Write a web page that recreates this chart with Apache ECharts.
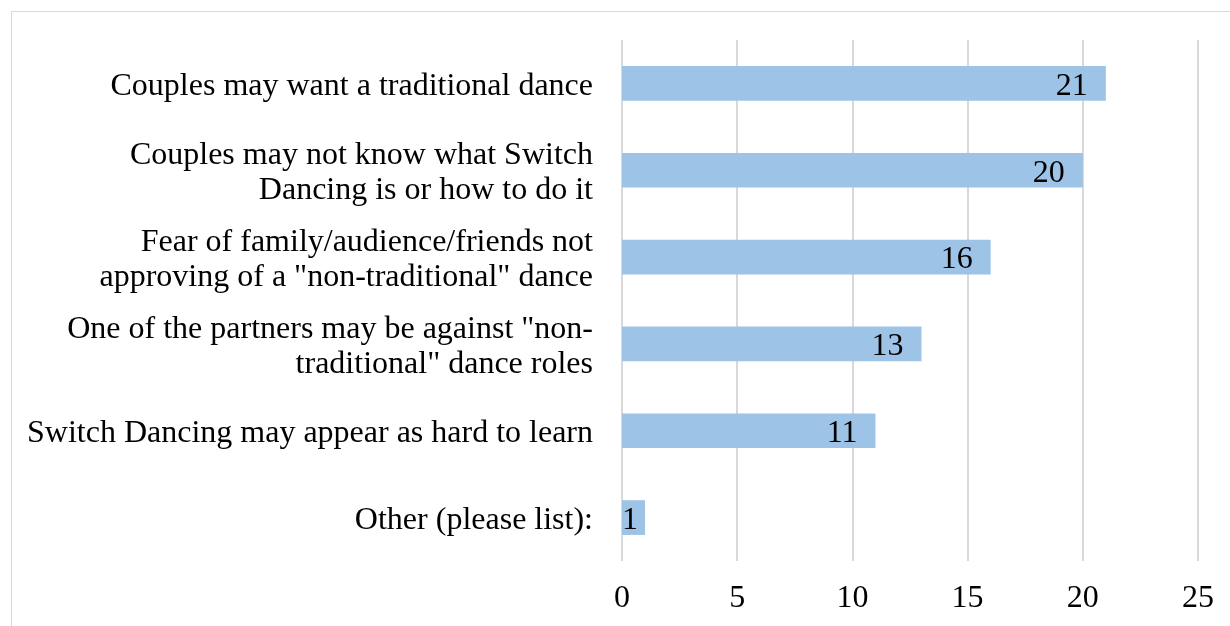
<!DOCTYPE html>
<html>
<head>
<meta charset="utf-8">
<script src="https://cdn.jsdelivr.net/npm/echarts@6/dist/echarts.min.js"></script>
<style>
  html, body { margin: 0; padding: 0; background: #fff; }
  #chart { width: 1230px; height: 626px; }
</style>
</head>
<body>
<div id="chart"></div>
<script>
// Reasons couples might not choose a switch dance (top to bottom)
const categories = [
  'Couples may want a traditional dance',
  'Couples may not know what Switch\nDancing is or how to do it',
  'Fear of family/audience/friends not\napproving of a "non-traditional" dance',
  'One of the partners may be against "non-\ntraditional" dance roles',
  'Switch Dancing may appear as hard to learn',
  'Other (please list):'
];
const counts = [21, 20, 16, 13, 11, 1];
const xTicks = [0, 5, 10, 15, 20, 25];

const FONT = "'Liberation Serif', 'Times New Roman', serif";

const chart = echarts.init(document.getElementById('chart'), null, { renderer: 'canvas' });

chart.setOption({
  animation: false,
  backgroundColor: '#ffffff',
  graphic: [{
    type: 'rect',
    shape: { x: 11.5, y: 11.5, width: 1300, height: 700 },
    style: { fill: 'none', stroke: '#d9d9d9', lineWidth: 1 },
    silent: true
  }],
  grid: { left: 622, right: 32, top: 40, bottom: 65, containLabel: false },
  xAxis: {
    type: 'value',
    min: xTicks[0],
    max: xTicks[xTicks.length - 1],
    interval: xTicks[1] - xTicks[0],
    axisLine: { show: false },
    axisTick: { show: false },
    splitLine: { show: true, lineStyle: { color: '#d9d9d9', width: 2 } },
    axisLabel: { color: '#000', fontFamily: FONT, fontSize: 32, margin: 22 }
  },
  yAxis: {
    type: 'category',
    inverse: true,
    data: categories,
    axisLine: { show: false },
    axisTick: { show: false },
    axisLabel: {
      color: '#000', fontFamily: FONT, fontSize: 32, lineHeight: 35,
      margin: 29, align: 'right', verticalAlign: 'middle',
      // nudge the wrapped text a few pixels lower
      formatter: v => v.split('\n').map(l => '{t|' + l + '}').join('\n'),
      rich: {
        t: { fontFamily: FONT, fontSize: 32, lineHeight: 35, color: '#000', padding: [6, 0, 0, 0], height: 35 }
      }
    }
  },
  series: [{
    type: 'bar',
    barWidth: '40%',
    itemStyle: { color: '#9dc3e6' },
    data: counts.map(v => v < 3
      ? { value: v, label: { distance: 7 } }
      : v),
    label: {
      show: true,
      position: 'insideRight',
      distance: 18,
      offset: [0, 3],
      color: '#000',
      fontFamily: FONT,
      fontSize: 32
    }
  }]
});
</script>
</body>
</html>
